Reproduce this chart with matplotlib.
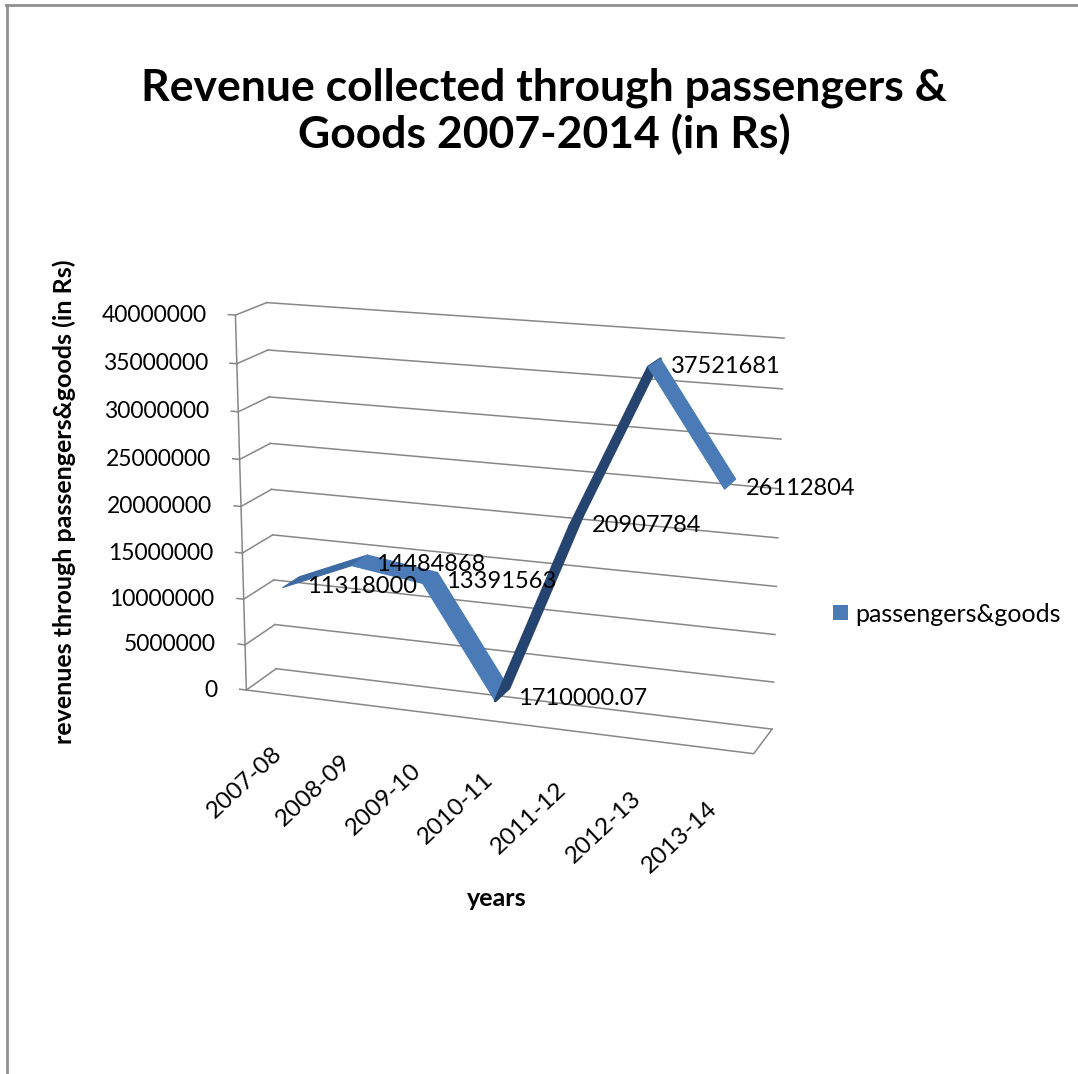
import matplotlib
matplotlib.use("Agg")
import matplotlib.pyplot as plt
import numpy as np
from matplotlib.lines import Line2D
from matplotlib.patches import Patch
from mpl_toolkits.mplot3d import proj3d
from mpl_toolkits.mplot3d.art3d import Poly3DCollection

plt.rcParams["font.family"] = ["Lato", "DejaVu Sans"]

years = ["2007-08", "2008-09", "2009-10", "2010-11", "2011-12", "2012-13", "2013-14"]
revenue = [11318000, 14484868, 13391563, 1710000.07, 20907784, 37521681, 26112804]
value_ticks = [0, 5000000, 10000000, 15000000, 20000000,
               25000000, 30000000, 35000000, 40000000]
series_name = "passengers&goods"

GRID = "#878787"
FACE_DOWN = "#4A7BB7"
FACE_UP = "#3D6AA3"
FACE_STEEP = "#25446F"

fig = plt.figure(figsize=(10.78, 10.74), dpi=100)
ax = fig.add_axes([0.1535, 0.1995, 0.6104, 0.6127], projection="3d")
ax.computed_zorder = False
ax.set_axis_off()

n = len(years)
xlo, xhi = -0.5, n - 0.5
zmax = value_ticks[-1]

# walls and floor: gridlines on the back wall and the left side wall
for v in value_ticks:
    ax.plot([xlo, xhi], [1, 1], [v, v], color=GRID, lw=1.1, zorder=1)
    ax.plot([xlo, xlo], [0, 1], [v, v], color=GRID, lw=1.1, zorder=1)
    ax.plot([xlo, xlo - 0.1], [0, 0], [v, v], color=GRID, lw=1.1, zorder=1)
ax.plot([xlo, xhi, xhi], [0, 0, 1], [0, 0, 0], color=GRID, lw=1.1, zorder=1)
ax.plot([xlo, xlo], [0, 0], [0, zmax], color=GRID, lw=1.1, zorder=1)

# 3-D line drawn as a ribbon between two depths
d0, d1 = 0.17, 0.73
xs = np.arange(n)
verts, colors, widths = [], [], []
for i in range(n - 1):
    a, b = revenue[i], revenue[i + 1]
    verts.append([(xs[i], d0, a), (xs[i + 1], d0, b),
                  (xs[i + 1], d1, b), (xs[i], d1, a)])
    rise = b - a
    if rise <= 0:
        colors.append(FACE_DOWN)
        widths.append(0.8)
    elif rise > 0.2 * zmax:
        colors.append(FACE_STEEP)
        widths.append(2.0)
    else:
        colors.append(FACE_UP)
        widths.append(0.8)
ribbon = Poly3DCollection(verts, facecolors=colors, edgecolors=colors,
                          linewidths=widths, zorder=2)
ax.add_collection3d(ribbon)

ax.set_xlim(xlo, xhi)
ax.set_ylim(0, 1)
ax.set_zlim(0, zmax)
ax.set_box_aspect((543, 73, 396))
ax.view_init(elev=15.5, azim=-70)
ax.set_proj_type("persp", focal_length=0.7)

M = ax.get_proj()


def screen(x, y, z):
    px, py, _ = proj3d.proj_transform(x, y, z, M)
    return float(px), float(py)


# value axis labels
for v in value_ticks:
    ax.annotate(f"{v}", xy=screen(xlo, 0, v), xytext=(-29, 0),
                textcoords="offset pixels", ha="right", va="center",
                fontsize=16.5, zorder=4)

# category labels along the front edge
for i, yr in enumerate(years):
    ax.annotate(yr, xy=screen(xs[i], 0, 0), xytext=(-1, -56),
                textcoords="offset pixels", ha="right", va="center",
                rotation=43, rotation_mode="anchor", fontsize=17.5, zorder=4)

# data labels to the right of each point
for i, v in enumerate(revenue):
    txt = f"{v:.2f}".rstrip("0").rstrip(".")
    ax.annotate(txt, xy=screen(xs[i], (d0 + d1) / 2, v), xytext=(16, -4),
                textcoords="offset pixels", ha="left", va="center",
                fontsize=17, zorder=4)

fig.text(0.505, 1 - 101 / 1074, "Revenue collected through passengers &",
         ha="center", va="baseline", fontsize=32, fontweight="bold")
fig.text(0.505, 1 - 148 / 1074, "Goods 2007-2014 (in Rs)",
         ha="center", va="baseline", fontsize=32, fontweight="bold")
fig.text(64 / 1078, 1 - 502 / 1074, "revenues through passengers&goods (in Rs)",
         ha="center", va="center", rotation=90, fontsize=18, fontweight="bold")
fig.text(497 / 1078, 1 - 898 / 1074, "years",
         ha="center", va="center", fontsize=18, fontweight="bold")

fig.legend(handles=[Patch(facecolor=FACE_DOWN, edgecolor="none")],
           labels=[series_name], loc="center left",
           bbox_to_anchor=(833 / 1078, 1 - 614 / 1074), frameon=False,
           fontsize=18, handlelength=0.58, handleheight=0.58,
           handletextpad=0.3, borderpad=0, borderaxespad=0)

# chart area border (top and left edges)
fig.add_artist(Line2D([7 / 1078, 7 / 1078], [0, 1 - 5 / 1074],
                      color="#909090", lw=2, transform=fig.transFigure))
fig.add_artist(Line2D([6 / 1078, 1], [1 - 5 / 1074, 1 - 5 / 1074],
                      color="#909090", lw=2, transform=fig.transFigure))

fig.savefig("out.png", dpi=100)
